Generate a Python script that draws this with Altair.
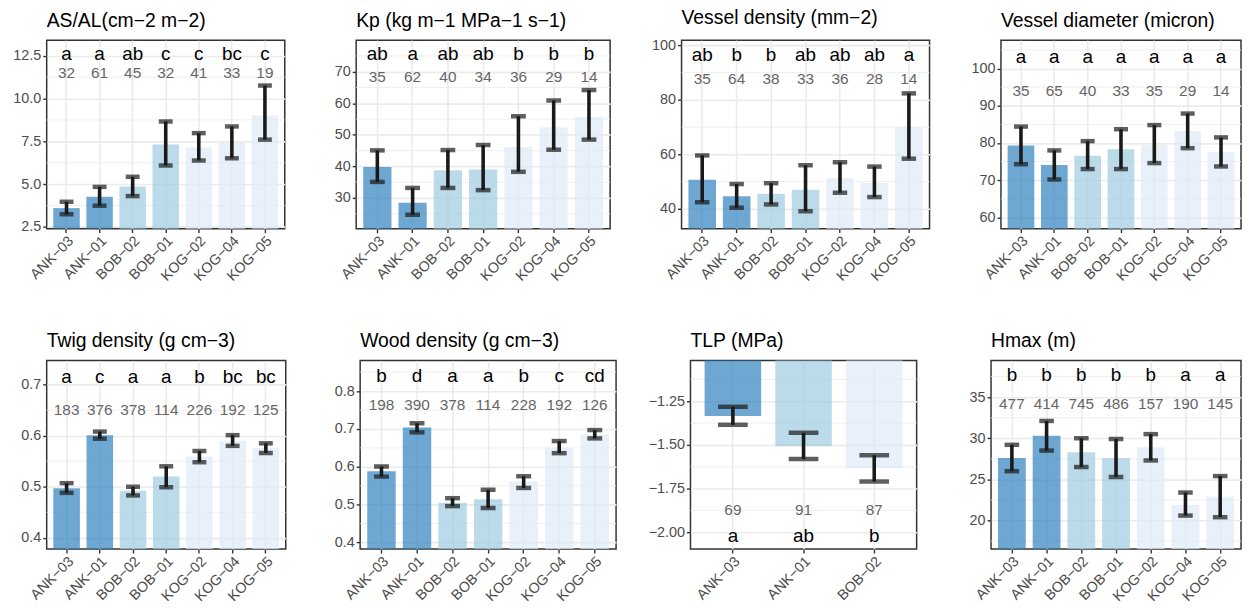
import altair as alt
import pandas as pd

FONT = "Liberation Sans"

# ---------------- data ----------------
sites = ["ANK−03", "ANK−01", "BOB−02", "BOB−01", "KOG−02", "KOG−04", "KOG−05"]
groups = ["g1", "g1", "g2", "g2", "g3", "g3", "g3"]
sites_tlp = ["ANK−03", "ANK−01", "BOB−02"]
groups_tlp = ["g1", "g2", "g3"]

asal_mean = [3.60, 4.26, 4.86, 7.31, 7.15, 7.40, 9.01]
asal_lo = [3.24, 3.74, 4.30, 6.09, 6.38, 6.51, 7.60]
asal_hi = [3.97, 4.84, 5.43, 8.66, 7.98, 8.37, 10.76]
asal_letters = ["a", "a", "ab", "c", "c", "bc", "c"]
asal_n = [32, 61, 45, 32, 41, 33, 19]

kp_mean = [39.8, 28.5, 38.8, 39.0, 46.2, 52.4, 55.7]
kp_lo = [35.1, 24.7, 33.2, 32.5, 38.3, 45.3, 48.5]
kp_hi = [45.1, 33.2, 45.2, 46.8, 55.9, 60.9, 64.2]
kp_letters = ["ab", "a", "ab", "ab", "b", "b", "b"]
kp_n = [35, 62, 40, 34, 36, 29, 14]

vd_mean = [50.7, 44.6, 45.5, 47.0, 51.3, 49.5, 70.1]
vd_lo = [42.4, 40.4, 41.6, 39.1, 45.9, 44.3, 58.4]
vd_hi = [59.6, 49.1, 49.4, 56.0, 57.1, 55.5, 82.4]
vd_letters = ["ab", "b", "b", "ab", "ab", "ab", "a"]
vd_n = [35, 64, 38, 33, 36, 28, 14]

vdia_mean = [79.3, 74.1, 76.6, 78.3, 79.4, 83.2, 77.6]
vdia_lo = [74.3, 70.2, 73.0, 73.0, 74.6, 78.6, 73.7]
vdia_hi = [84.4, 78.0, 80.5, 83.7, 84.8, 87.9, 81.5]
vdia_letters = ["a", "a", "a", "a", "a", "a", "a"]
vdia_n = [35, 65, 40, 33, 35, 29, 14]

twig_mean = [0.497, 0.601, 0.492, 0.520, 0.559, 0.590, 0.576]
twig_lo = [0.488, 0.594, 0.483, 0.499, 0.548, 0.580, 0.566]
twig_hi = [0.507, 0.608, 0.500, 0.540, 0.570, 0.601, 0.585]
twig_letters = ["a", "c", "a", "a", "b", "bc", "bc"]
twig_n = [183, 376, 378, 114, 226, 192, 125]

wood_mean = [0.588, 0.704, 0.505, 0.514, 0.561, 0.650, 0.686]
wood_lo = [0.574, 0.691, 0.496, 0.491, 0.544, 0.636, 0.675]
wood_hi = [0.601, 0.715, 0.517, 0.539, 0.575, 0.668, 0.697]
wood_letters = ["b", "d", "a", "a", "b", "c", "cd"]
wood_n = [198, 390, 378, 114, 228, 192, 126]

tlp_mean = [-1.334, -1.508, -1.633]
tlp_lo = [-1.385, -1.580, -1.709]
tlp_hi = [-1.282, -1.430, -1.559]
tlp_letters = ["a", "ab", "b"]
tlp_n = [69, 91, 87]

hmax_mean = [27.6, 30.3, 28.3, 27.6, 28.9, 21.9, 22.9]
hmax_lo = [26.0, 28.5, 26.5, 25.3, 27.3, 20.6, 20.4]
hmax_hi = [29.2, 32.1, 30.0, 29.9, 30.5, 23.4, 25.4]
hmax_letters = ["b", "b", "b", "b", "b", "a", "a"]
hmax_n = [477, 414, 745, 486, 157, 190, 145]

GROUP_DOMAIN = ["g1", "g2", "g3"]
GROUP_COLORS = ["#3182BD", "#9ECAE1", "#DEEBF7"]

ROW_H = 190
XEXT = 58
YEXT = 38
TICK_FS = 14.5
TITLE_FS = 19.5
LETTER_FS = 19
COUNT_FS = 15.5


def frame(site_list, grp, mean, lo, hi, letters, n):
    return pd.DataFrame({"site": site_list, "grp": grp, "value": mean,
                         "lo": lo, "hi": hi, "letter": letters, "n": [str(v) for v in n]})


def minor_breaks(ticks, domain):
    step = ticks[1] - ticks[0]
    cands = [ticks[0] - step / 2] + [t + step / 2 for t in ticks]
    return [c for c in cands if domain[0] <= c <= domain[1]]


def panel(df, title, domain, ticks, fmt, letter_y, n_y, width):
    nsite = len(df)
    step = width / (nsite + 0.2)
    cap = 0.42 * step
    order = list(df["site"])
    # bars start from zero; zero lies outside the visible range, so they begin at the plot edge
    bar_base = min(max(0.0, domain[0]), domain[1])
    xscale = alt.Scale(paddingInner=0.2, paddingOuter=0.2)
    xaxis = alt.Axis(title=None, labelAngle=315, labelAlign="right", labelBaseline="top",
                     grid=True, gridColor="#EBEBEB", gridWidth=1.6, bandPosition=0.5,
                     domain=False, tickColor="#333333", tickWidth=1.4, tickSize=4,
                     labelColor="#4D4D4D", labelFontSize=TICK_FS, labelFont=FONT,
                     labelPadding=1, minExtent=XEXT, maxExtent=XEXT)
    yaxis = alt.Axis(title=None, values=ticks, format=fmt, grid=True, gridColor="#EBEBEB",
                     gridWidth=1.6, domain=False, tickColor="#333333", tickWidth=1.4,
                     tickSize=4, labelColor="#4D4D4D", labelFontSize=TICK_FS, labelFont=FONT,
                     labelPadding=2, minExtent=YEXT, maxExtent=YEXT)
    ysc = alt.Scale(domain=domain, nice=False, zero=False)
    x_enc = alt.X("site:N", sort=order, scale=xscale, axis=xaxis)

    def yq(field):
        return alt.Y(field, type="quantitative", scale=ysc, axis=yaxis)

    minor = alt.Chart(pd.DataFrame({"m": minor_breaks(ticks, domain)})).mark_rule(
        color="#EBEBEB", strokeWidth=0.8).encode(y=yq("m"))

    base = alt.Chart(df)
    bars = base.mark_bar(opacity=0.7).encode(
        x=x_enc,
        y=yq("value"),
        y2=alt.datum(bar_base),
        color=alt.Color("grp:N", scale=alt.Scale(domain=GROUP_DOMAIN, range=GROUP_COLORS), legend=None),
    )
    err = base.mark_rule(color="#1A1A1A", strokeWidth=3.6).encode(
        x=x_enc, y=yq("lo"), y2="hi:Q")
    cap_lo = base.mark_tick(color="#1A1A1A", thickness=4.5, size=cap).encode(x=x_enc, y=yq("lo"))
    cap_hi = base.mark_tick(color="#1A1A1A", thickness=4.5, size=cap).encode(x=x_enc, y=yq("hi"))
    let = base.mark_text(fontSize=LETTER_FS, color="black", baseline="alphabetic", font=FONT).encode(
        x=x_enc, y=alt.datum(letter_y), text="letter:N")
    cnt = base.mark_text(fontSize=COUNT_FS, color="#666666", baseline="alphabetic", font=FONT).encode(
        x=x_enc, y=alt.datum(n_y), text="n:N")
    return alt.layer(minor, bars, err, cap_lo, cap_hi, let, cnt).properties(
        width=width, height=ROW_H,
        title=alt.TitleParams(title, anchor="start", frame="group", fontSize=TITLE_FS, font=FONT,
                              fontWeight="normal", color="black", baseline="alphabetic", offset=-6),
    )


p1 = panel(frame(sites, groups, asal_mean, asal_lo, asal_hi, asal_letters, asal_n),
           "AS/AL(cm−2 m−2)", [2.40, 13.41], [2.5, 5.0, 7.5, 10.0, 12.5], ".1f", 12.25, 11.2, 240)
p2 = panel(frame(sites, groups, kp_mean, kp_lo, kp_hi, kp_letters, kp_n),
           "Kp (kg m−1 MPa−1 s−1)", [20.3, 80.0], [30, 40, 50, 60, 70], "d", 73.7, 66.85, 256)
p3 = panel(frame(sites, groups, vd_mean, vd_lo, vd_hi, vd_letters, vd_n),
           "Vessel density (mm−2)", [32.7, 101.95], [40, 60, 80, 100], "d", 94.4, 85.85, 250)
p4 = panel(frame(sites, groups, vdia_mean, vdia_lo, vdia_hi, vdia_letters, vdia_n),
           "Vessel diameter (micron)", [57.0, 107.6], [60, 70, 80, 90, 100], "d", 101.6, 92.5, 242)
p5 = panel(frame(sites, groups, twig_mean, twig_lo, twig_hi, twig_letters, twig_n),
           "Twig density (g cm−3)", [0.378, 0.747], [0.4, 0.5, 0.6, 0.7], ".1f", 0.704, 0.6396, 241)
p6 = panel(frame(sites, groups, wood_mean, wood_lo, wood_hi, wood_letters, wood_n),
           "Wood density (g cm−3)", [0.3825, 0.8807], [0.4, 0.5, 0.6, 0.7, 0.8], ".1f", 0.8254, 0.75, 258)
p7 = panel(frame(sites_tlp, groups_tlp, tlp_mean, tlp_lo, tlp_hi, tlp_letters, tlp_n),
           "TLP (MPa)", [-2.095, -1.018], [-2.0, -1.75, -1.5, -1.25], ".2f", -2.057, -1.898, 228)
p8 = panel(frame(sites, groups, hmax_mean, hmax_lo, hmax_hi, hmax_letters, hmax_n),
           "Hmax (m)", [16.53, 39.44], [20, 25, 30, 35], "d", 36.9, 33.5, 252)

row1 = alt.hconcat(p1, p2, p3, p4, spacing=72, bounds="flush")
row2 = alt.hconcat(p5, p6, p7, p8, spacing=75, bounds="flush")

chart = alt.vconcat(row1, row2, spacing=43).configure(
    padding={"left": 0, "top": -3, "right": 0, "bottom": 0}, font=FONT
).configure_view(stroke="#333333", strokeWidth=1.5)

chart.save("out.html", embed_options={"renderer": "svg", "actions": False})
